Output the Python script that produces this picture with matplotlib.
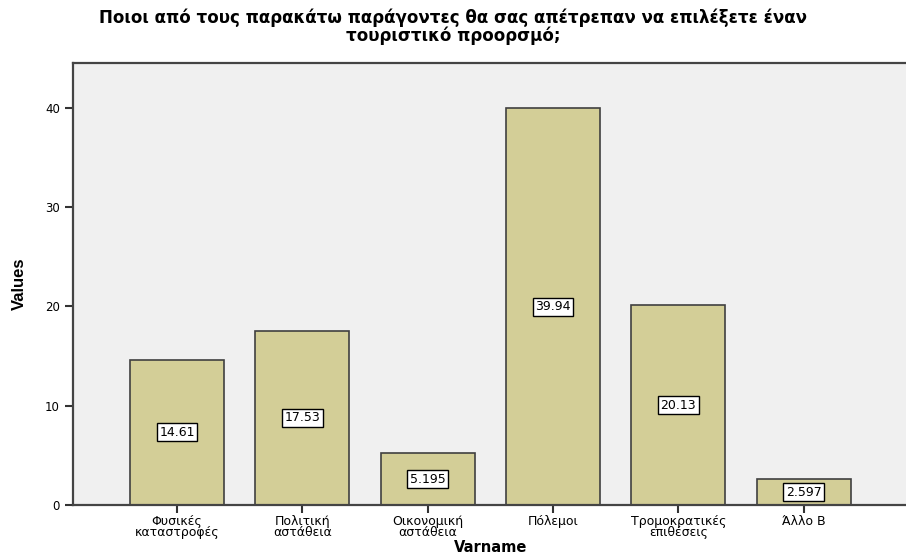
import matplotlib.pyplot as plt

plt.rcParams['font.family'] = ['DejaVu Sans']

categories = ['Φυσικές\nκαταστροφές', 'Πολιτική\nαστάθεια', 'Οικονομική\nαστάθεια',
              'Πόλεμοι', 'Τρομοκρατικές\nεπιθέσεις', 'Άλλο Β']
values = [14.61, 17.53, 5.195, 39.94, 20.13, 2.597]
labels = ['14.61', '17.53', '5.195', '39.94', '20.13', '2.597']

fig = plt.figure(figsize=(9.06, 5.59), dpi=100)
ax = fig.add_axes([73 / 906, 54 / 559, 1 - 73 / 906 + 0.002, (505 - 63) / 559])
ax.set_facecolor('#F0F0F0')

x = range(len(values))
ax.bar(x, values, width=0.75, color='#D3CE97', edgecolor='#404040', linewidth=1.2, zorder=2)

for xi, v, lab in zip(x, values, labels):
    ax.text(xi, v / 2, lab, ha='center', va='center', fontsize=9, zorder=3,
            bbox=dict(boxstyle='square,pad=0.2', facecolor='white', edgecolor='black', linewidth=1))

ax.set_xlim(-0.83, 5.83)
ax.set_ylim(0, 44.5)
ax.set_yticks([0, 10, 20, 30, 40])
ax.set_xticks(list(x))
ax.set_xticklabels(categories, fontsize=9, linespacing=0.8)
ax.tick_params(axis='y', labelsize=8.5, length=6, width=1.5, color='#333333')
ax.tick_params(axis='x', length=6, width=1.5, color='#333333', pad=1)

for side in ['left', 'bottom', 'top']:
    ax.spines[side].set_color('#444444')
    ax.spines[side].set_linewidth(1.6)
ax.spines['right'].set_visible(False)

ax.set_ylabel('Values', fontsize=12, fontweight='bold', family=['Liberation Sans'], va='center')
ax.yaxis.set_label_coords(-(73 - 20) / 833, 0.5)
ax.set_xlabel('Varname', fontsize=10.5, fontweight='bold', va='center')
ax.xaxis.set_label_coords(0.5, -(548 - 505) / 442)

fig.suptitle('Ποιοι από τους παρακάτω παράγοντες θα σας απέτρεπαν να επιλέξετε έναν\nτουριστικό προορσμό;',
             fontsize=12, fontweight='bold', y=0.985, linespacing=0.95, x=0.5)

fig.savefig('out.png', dpi=100)
